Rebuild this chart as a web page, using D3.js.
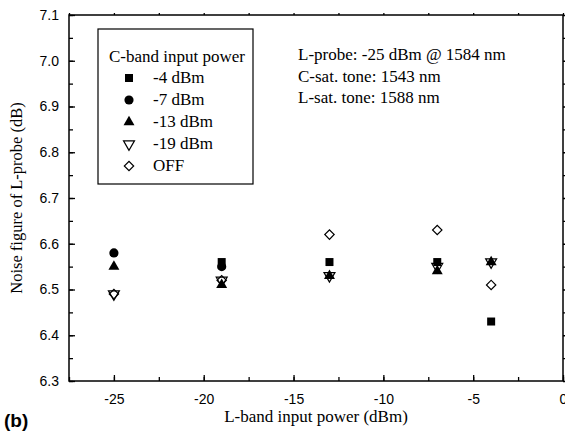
<!DOCTYPE html>
<html>
<head>
<meta charset="utf-8">
<script src="https://cdn.jsdelivr.net/npm/d3@7"></script>
<style>
  body { margin: 0; background: #fff; }
  svg { display: block; }
</style>
</head>
<body>
<div id="chart"></div>
<script>
// data
var lbandPower = [-25, -19, -13, -7, -4];
var seriesNames = ["-4 dBm", "-7 dBm", "-13 dBm", "-19 dBm", "OFF"];
var nf_m4 = [null, 6.56, 6.56, 6.56, 6.43];
var nf_m7 = [6.58, 6.55, null, null, null];
var nf_m13 = [6.55, 6.51, 6.53, 6.54, 6.56];
var nf_m19 = [6.49, 6.52, 6.53, 6.55, 6.56];
var nf_off = [6.49, 6.52, 6.62, 6.63, 6.51];
var xTicks = [-25, -20, -15, -10, -5, 0];
var yTicks = [6.3, 6.4, 6.5, 6.6, 6.7, 6.8, 6.9, 7.0, 7.1];
var notes = ["L-probe: -25 dBm @ 1584 nm", "C-sat. tone: 1543 nm", "L-sat. tone: 1588 nm"];

var margin = {top: 15, right: 2, bottom: 53, left: 69},
    width = 565 - margin.left - margin.right,
    height = 434 - margin.top - margin.bottom;

var svg = d3.select("#chart")
  .append("svg")
    .attr("width", 565)
    .attr("height", 434)
  .append("g")
    .attr("transform", "translate(" + margin.left + "," + margin.top + ")");

var x = d3.scaleLinear().domain([-27.5, 0]).range([0, width]);
var y = d3.scaleLinear().domain([6.3, 7.1]).range([height, 0]);

var sans = "'Liberation Sans', Arial, sans-serif";
var serif = "'Liberation Serif', 'Times New Roman', serif";
var fs = 17;

// marker styles per series
var shapes = [
  {sym: d3.symbolSquare, size: 64, rot: 0, fill: "#000"},
  {sym: d3.symbolCircle, size: 66, rot: 0, fill: "#000"},
  {sym: d3.symbolTriangle, size: 52, rot: 0, fill: "#000"},
  {sym: d3.symbolTriangle, size: 52, rot: 180, fill: "none"},
  {sym: d3.symbolSquare, size: 44, rot: 45, fill: "none"}
];
var allSeries = [nf_m4, nf_m7, nf_m13, nf_m19, nf_off];

// axes: bottom & left with inward ticks, mirrored top & right
var xMinor = d3.range(-27.5, 0.01, 2.5);
var yMinor = d3.range(6.3, 7.101, 0.05);
var hyphen = function(fmt) { return function(d) { return fmt(d).replace("\u2212", "-"); }; };

function drawAxis(g, axis) {
  g.call(axis);
  g.select(".domain").remove();
  g.selectAll("line").attr("stroke", "#000").attr("stroke-width", 1.3);
}

var bottomAx = svg.append("g").attr("transform", "translate(0," + height + ")");
drawAxis(bottomAx, d3.axisBottom(x).tickValues(xMinor).tickSize(-4).tickFormat(""));
var bottomMajor = svg.append("g").attr("transform", "translate(0," + height + ")");
drawAxis(bottomMajor, d3.axisBottom(x).tickValues(xTicks).tickSize(-6).tickPadding(13).tickFormat(hyphen(d3.format("d"))));
bottomMajor.selectAll("text").attr("font-family", sans).attr("font-size", 14).attr("fill", "#000");

var leftAx = svg.append("g");
drawAxis(leftAx, d3.axisLeft(y).tickValues(yMinor).tickSize(-4).tickFormat(""));
var leftMajor = svg.append("g");
drawAxis(leftMajor, d3.axisLeft(y).tickValues(yTicks).tickSize(-6).tickPadding(10).tickFormat(d3.format(".1f")));
leftMajor.selectAll("text").attr("font-family", sans).attr("font-size", 14).attr("fill", "#000");

var topAx = svg.append("g");
drawAxis(topAx, d3.axisTop(x).tickValues(xMinor).tickSize(2).tickFormat(""));
var rightAx = svg.append("g").attr("transform", "translate(" + width + ",0)");
drawAxis(rightAx, d3.axisRight(y).tickValues(yMinor).tickSize(4).tickFormat(""));

svg.append("rect")
  .attr("width", width)
  .attr("height", height)
  .attr("fill", "none")
  .attr("stroke", "#000")
  .attr("stroke-width", 1.5);

// points
allSeries.forEach(function(vals, si) {
  var s = shapes[si];
  var pts = lbandPower.map(function(p, i) { return {x: p, y: vals[i]}; })
    .filter(function(d) { return d.y != null; });
  svg.append("g").selectAll("path")
    .data(pts)
    .enter()
    .append("path")
      .attr("d", d3.symbol().type(s.sym).size(s.size))
      .attr("transform", function(d) { return "translate(" + x(d.x) + "," + y(d.y) + ") rotate(" + s.rot + ")"; })
      .attr("fill", s.fill)
      .attr("stroke", "#000")
      .attr("stroke-width", s.fill == "none" ? 1.2 : 0);
});

// legend
var legend = svg.append("g").attr("transform", "translate(" + (98 - margin.left) + "," + (29 - margin.top) + ")");
legend.append("rect")
  .attr("width", 155)
  .attr("height", 155)
  .attr("fill", "#fff")
  .attr("stroke", "#000")
  .attr("stroke-width", 1.2);
legend.append("text")
  .attr("x", 11)
  .attr("y", 33)
  .attr("font-family", serif)
  .attr("font-size", fs)
  .text("C-band input power");
seriesNames.forEach(function(name, i) {
  var s = shapes[i];
  var yy = 49 + i * 22;
  legend.append("path")
    .attr("d", d3.symbol().type(s.sym).size(s.size))
    .attr("transform", "translate(31," + yy + ") rotate(" + s.rot + ")")
    .attr("fill", s.fill)
    .attr("stroke", "#000")
    .attr("stroke-width", s.fill == "none" ? 1.2 : 0);
  legend.append("text")
    .attr("x", 55)
    .attr("y", yy + 5)
    .attr("font-family", serif)
    .attr("font-size", fs)
    .text(name);
});

// annotation
svg.selectAll(".note")
  .data(notes)
  .enter()
  .append("text")
    .attr("class", "note")
    .attr("x", 298 - margin.left)
    .attr("y", function(d, i) { return 60 - margin.top + i * 21.5; })
    .attr("font-family", serif)
    .attr("font-size", fs)
    .text(function(d) { return d; });

// axis titles
svg.append("text")
  .attr("x", width / 2)
  .attr("y", height + 41)
  .attr("text-anchor", "middle")
  .attr("font-family", serif)
  .attr("font-size", fs)
  .text("L-band input power (dBm)");

svg.append("text")
  .attr("transform", "translate(" + (22 - margin.left) + "," + (height / 2) + ") rotate(-90)")
  .attr("text-anchor", "middle")
  .attr("font-family", serif)
  .attr("font-size", 16.5)
  .text("Noise figure of L-probe (dB)");

svg.append("text")
  .attr("x", 4 - margin.left)
  .attr("y", 427 - margin.top)
  .attr("font-family", sans)
  .attr("font-weight", "bold")
  .attr("font-size", 19)
  .text("(b)");
</script>
</body>
</html>
